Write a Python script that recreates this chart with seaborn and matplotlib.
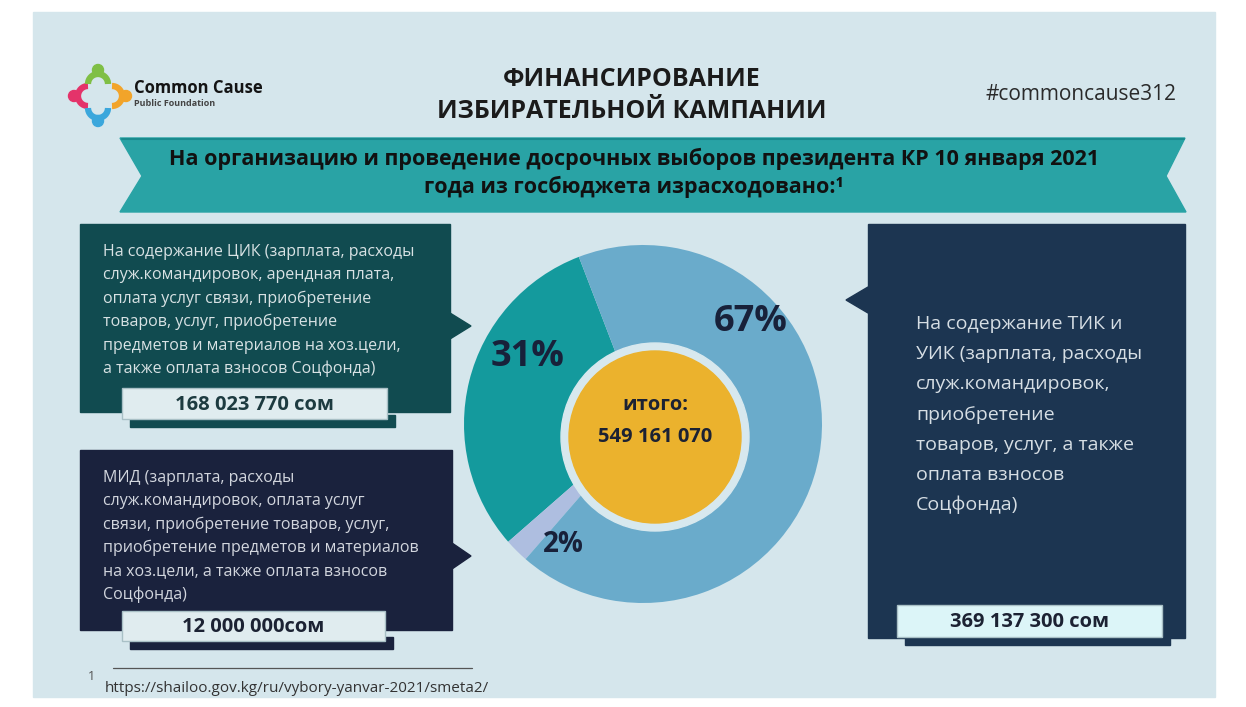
import matplotlib
matplotlib.use('Agg')
import matplotlib.pyplot as plt
from matplotlib.patches import Rectangle, Polygon, Circle, Arc
import seaborn as sns

segments = ['ЦИК', 'МИД', 'ТИК и УИК']
amounts = [168023770, 12000000, 369137300]
amount_sep = [' ', '', ' ']          # the МИД figure is printed without a space before "сом"
seg_colors = ['#149a9d', '#aebee0', '#6aabcb']

title_lines = ['ФИНАНСИРОВАНИЕ', 'ИЗБИРАТЕЛЬНОЙ КАМПАНИИ']
banner_lines = ['На организацию и проведение досрочных выборов президента КР 10 января 2021',
                'года из госбюджета израсходовано:¹']
cik_text = ['На содержание ЦИК (зарплата, расходы',
            'служ.командировок, арендная плата,',
            'оплата услуг связи, приобретение',
            'товаров, услуг, приобретение',
            'предметов и материалов на хоз.цели,',
            'а также оплата взносов Соцфонда)']
mid_text = ['МИД (зарплата, расходы',
            'служ.командировок, оплата услуг',
            'связи, приобретение товаров, услуг,',
            'приобретение предметов и материалов',
            'на хоз.цели, а также оплата взносов',
            'Соцфонда)']
tik_text = ['На содержание ТИК и',
            'УИК (зарплата, расходы',
            'служ.командировок,',
            'приобретение',
            'товаров, услуг, а также',
            'оплата взносов',
            'Соцфонда)']
source_url = 'https://shailoo.gov.kg/ru/vybory-yanvar-2021/smeta2/'
hashtag = '#commoncause312'

total = sum(amounts)


def money(v, sep=' '):
    return f'{v:,}'.replace(',', ' ') + sep + 'сом'


# =====================================================================
# setup
# =====================================================================
sns.set_theme(style='white')
plt.rcParams['font.family'] = ['Open Sans', 'DejaVu Sans']

W, H = 1246, 707
fig = plt.figure(figsize=(W / 100, H / 100), dpi=100)
bg = fig.add_axes([0, 0, 1, 1])
bg.set_xlim(0, W)
bg.set_ylim(H, 0)
bg.axis('off')

bg.add_patch(Rectangle((0, 0), W, H, color='white', zorder=0))
bg.add_patch(Rectangle((33, 12), 1182, 685, color='#d5e6ec', zorder=0))

# ---- logo ----
logo = [((74, 96), (88, 96), (90, 270), '#e4336a'),
        ((98, 70), (98, 84), (180, 360), '#7fbf45'),
        ((126, 96), (112, 96), (-90, 90), '#f2a42a'),
        ((98, 121), (98, 108), (0, 180), '#3ba7dc')]
for head, body, (t1, t2), c in logo:
    bg.add_patch(Circle(head, 5.5, color=c, zorder=3))
    bg.add_patch(Arc(body, 20, 20, theta1=t1, theta2=t2, color=c, lw=4.5, zorder=3))
bg.text(134, 88, 'Common Cause', fontsize=12, fontweight='bold', color='#141414', va='center')
bg.text(134, 104, 'Public Foundation', fontsize=6.5, fontweight='bold', color='#444444', va='center')

# ---- title / hashtag ----
for i, line in enumerate(title_lines):
    bg.text(632, 80 + 32 * i, line, ha='center', va='center', fontsize=18,
            fontweight='bold', color='#1b1b1b')
bg.text(1176, 95, hashtag, ha='right', va='center', fontsize=15, color='#2a2a2a')

# ---- banner ----
bg.add_patch(Polygon([(120, 138), (1185, 138), (1166, 176), (1186, 212), (120, 212), (142, 176)],
                     closed=True, color='#29a3a5', zorder=1))
bg.plot([122, 1184], [138.5, 138.5], color='#1a8b8e', lw=1.5, zorder=2)
for i, line in enumerate(banner_lines):
    bg.text(634, 159 + 28 * i, line, ha='center', va='center', fontsize=15.5,
            fontweight='bold', color='#111111', zorder=3)

# ---- text boxes ----
def callout(x0, y0, x1, y1, color, tip, side):
    bg.add_patch(Rectangle((x0, y0), x1 - x0, y1 - y0, color=color, zorder=1))
    tx, ty = tip
    bx = x1 if side == 'right' else x0
    bg.add_patch(Polygon([(bx, ty - 13), (tx, ty), (bx, ty + 13)], closed=True,
                         color=color, zorder=1))


def value_box(x0, y0, x1, y1, shade, face, label, tcolor):
    bg.add_patch(Rectangle((x0 + 8, y1 - 4), x1 - x0, 12, color=shade, zorder=2))
    bg.add_patch(Rectangle((x0, y0), x1 - x0, y1 - y0, facecolor=face,
                           edgecolor='#a9c0c6', lw=1, zorder=3))
    bg.text((x0 + x1) / 2, (y0 + y1) / 2 + 1, label, ha='center', va='center',
            fontsize=14.5, fontweight='bold', color=tcolor, zorder=4)


callout(80, 224, 450, 412, '#114b50', (471, 326), 'right')
for i, line in enumerate(cik_text):
    bg.text(103, 252 + 23.4 * i, line, fontsize=11.5, color='#d8e2e4', va='center', zorder=4)
value_box(122, 388, 387, 419, '#114b50', '#e0ecef', money(amounts[0], amount_sep[0]), '#1d3b40')

callout(80, 450, 452, 630, '#1a223d', (471, 556), 'right')
for i, line in enumerate(mid_text):
    bg.text(103, 478 + 23.4 * i, line, fontsize=11.5, color='#d2d6de', va='center', zorder=4)
value_box(122, 611, 385, 641, '#1a223d', '#e0ecef', money(amounts[1], amount_sep[1]), '#1c2233')

callout(868, 224, 1185, 638, '#1c3551', (846, 300), 'left')
for i, line in enumerate(tik_text):
    bg.text(916, 324 + 30.2 * i, line, fontsize=14, color='#d6dee4', va='center', zorder=4)
value_box(897, 605, 1162, 637, '#1c3551', '#dcf5f8', money(amounts[2], amount_sep[2]), '#1c2233')

# ---- footnote ----
bg.plot([113, 472], [668, 668], color='#555555', lw=0.9)
bg.text(88, 677, '1', fontsize=9, color='#555555', va='center')
bg.text(105, 689, source_url, fontsize=11, color='#333333', va='center')

# =====================================================================
# donut
# =====================================================================
cx, cy, R = 643, 424, 179
pie_ax = fig.add_axes([(cx - 1.1 * R) / W, (H - cy - 1.1 * R) / H, 2.2 * R / W, 2.2 * R / H])
pie_ax.pie(amounts, colors=seg_colors, startangle=111, counterclock=True,
           radius=1, wedgeprops=dict(width=0.62, linewidth=0))
pie_ax.set_xlim(-1.1, 1.1)
pie_ax.set_ylim(-1.1, 1.1)
pie_ax.set_aspect('equal')
pie_ax.axis('off')

off = (12 / R, -13 / R)
pie_ax.add_patch(Circle(off, 94 / R, color='#d7e8ee', zorder=5))
pie_ax.add_patch(Circle(off, 86 / R, color='#ebb22d', zorder=6))
pie_ax.text(off[0], off[1] + 0.18, 'итого:', ha='center', va='center', fontsize=14.5,
            fontweight='bold', color='#1c2233', zorder=7)
pie_ax.text(off[0], off[1] - 0.0, f'{total:,}'.replace(',', ' '), ha='center', va='center',
            fontsize=14.5, fontweight='bold', color='#1c2233', zorder=7)

# percentage labels (placed in page pixels, drawn above the donut)
pct_pos = [(528, 357), (563, 544), (751, 322)]
pct_size = [26, 20, 26]
for v, (px, py), fs in zip(amounts, pct_pos, pct_size):
    pie_ax.text(px, py, f'{round(v / total * 100)}%', ha='center', va='center',
                fontsize=fs, fontweight='bold', color='#18213a', zorder=8,
                transform=bg.transData)

fig.savefig('out.png', dpi=100)
